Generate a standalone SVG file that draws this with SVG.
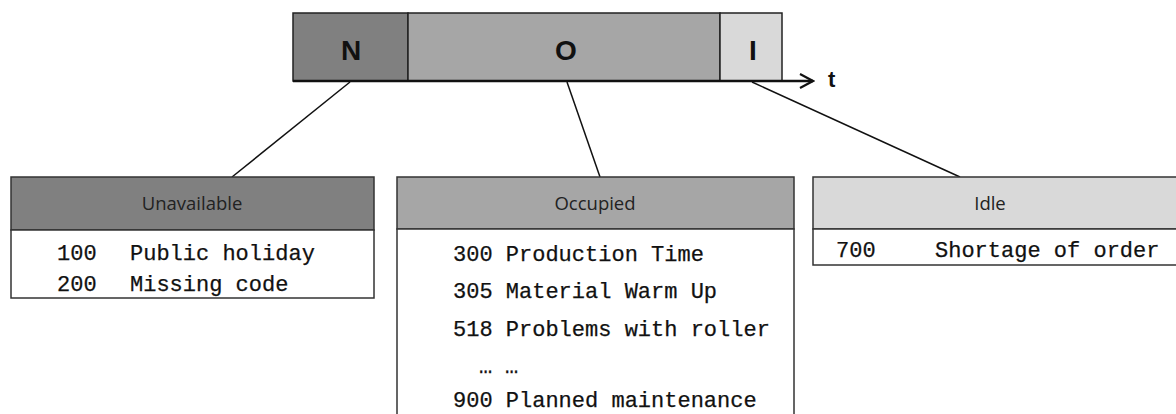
<svg xmlns="http://www.w3.org/2000/svg" width="1176" height="414" viewBox="0 0 1176 414">
<style>
.seg{stroke:#222;stroke-width:1.5}
.big{font-family:"Liberation Sans",Arial,sans-serif;font-weight:bold;font-size:28px;fill:#111;text-anchor:middle}
.hdr{font-family:"Open Sans","Noto Sans",sans-serif;font-size:18.5px;fill:#222;text-anchor:middle}
.box{stroke:#333;stroke-width:1.5}
.code{font-family:"Liberation Mono","Courier New",monospace;font-size:22px;fill:#111;stroke:#111;stroke-width:0.25}
.con{stroke:#111;stroke-width:1.5;fill:none}
</style>
<defs>
<marker id="arr" markerWidth="16" markerHeight="16" refX="14" refY="8" orient="auto" markerUnits="userSpaceOnUse">
<path d="M1,1 L14,8 L1,15" fill="none" stroke="#111" stroke-width="2.2"/>
</marker>
</defs>
<g id="timeline">
<rect class="seg" x="293" y="13" width="115" height="68" fill="#808080"/>
<rect class="seg" x="408" y="13" width="312" height="68" fill="#a6a6a6"/>
<rect class="seg" x="720" y="13" width="62" height="68" fill="#d9d9d9"/>
<text class="big" x="351" y="60">N</text>
<text class="big" x="566" y="60">O</text>
<text class="big" x="753" y="60">I</text>
<line x1="293" y1="81" x2="813" y2="81" stroke="#111" stroke-width="2.5" marker-end="url(#arr)"/>
<text x="828" y="87" font-family="Liberation Sans,Arial,sans-serif" font-weight="bold" font-size="22" fill="#111">t</text>
</g>
<g id="connectors">
<line class="con" x1="350" y1="82" x2="232" y2="177"/>
<line class="con" x1="567" y1="82" x2="600" y2="177"/>
<line class="con" x1="752" y1="82" x2="960" y2="177"/>
</g>
<g id="unavailable">
<rect class="box" x="11" y="177" width="363" height="53" fill="#808080"/>
<rect class="box" x="11" y="230" width="363" height="68" fill="#fff"/>
<text class="hdr" x="192" y="210">Unavailable</text>
<text class="code" y="260"><tspan x="57">100</tspan><tspan x="130">Public holiday</tspan></text>
<text class="code" y="291"><tspan x="57">200</tspan><tspan x="130">Missing code</tspan></text>
</g>
<g id="occupied">
<rect class="box" x="397" y="177" width="397" height="52" fill="#a6a6a6"/>
<rect class="box" x="397" y="229" width="397" height="195" fill="#fff"/>
<text class="hdr" x="595" y="210">Occupied</text>
<text class="code" x="453" y="261">300 Production Time</text>
<text class="code" x="453" y="298">305 Material Warm Up</text>
<text class="code" x="453" y="336">518 Problems with roller</text>
<text class="code" y="373"><tspan x="479">…</tspan><tspan x="505">…</tspan></text>
<text class="code" x="453" y="407">900 Planned maintenance</text>
</g>
<g id="idle">
<rect class="box" x="813" y="177" width="370" height="52" fill="#d9d9d9"/>
<rect class="box" x="813" y="229" width="370" height="36" fill="#fff"/>
<text class="hdr" x="990" y="210">Idle</text>
<text class="code" y="257"><tspan x="836">700</tspan><tspan x="935">Shortage of order</tspan></text>
</g>
</svg>
